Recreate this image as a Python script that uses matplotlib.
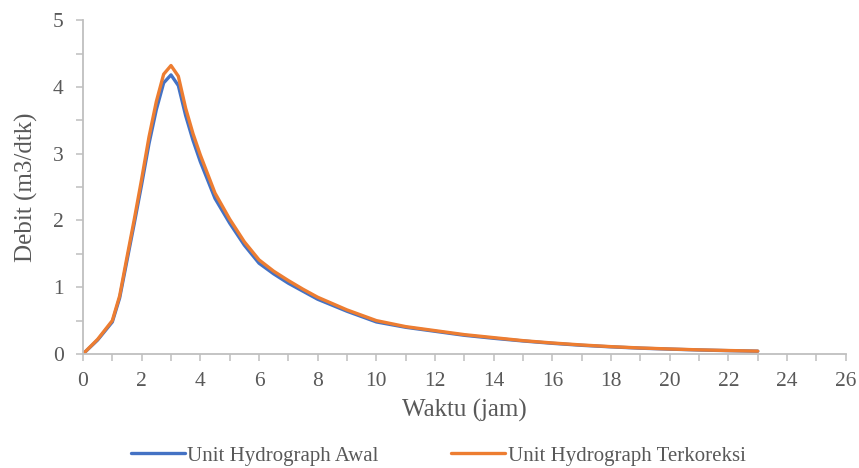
import matplotlib
matplotlib.use("Agg")
from matplotlib import pyplot as plt
from matplotlib.ticker import MultipleLocator

# waktu (jam) dan debit (m3/dtk)
waktu = [0, 0.5, 1, 1.25, 1.5, 1.75, 2, 2.25, 2.5, 2.75, 3, 3.25, 3.5, 3.75, 4,
         4.5, 5, 5.5, 6, 6.5, 7, 7.5, 8, 9, 10, 11, 12, 13, 14, 15, 16, 17,
         18, 19, 20, 21, 22, 23]
uh_awal = [0, 0.21, 0.48, 0.84, 1.40, 1.96, 2.54, 3.15, 3.66, 4.06, 4.18, 4.02,
           3.57, 3.20, 2.88, 2.33, 1.96, 1.63, 1.36, 1.20, 1.06, 0.94, 0.82,
           0.64, 0.48, 0.40, 0.34, 0.28, 0.235, 0.195, 0.16, 0.13, 0.107,
           0.087, 0.073, 0.06, 0.05, 0.042]
uh_koreksi = [0, 0.22, 0.50, 0.87, 1.45, 2.02, 2.62, 3.25, 3.78, 4.19, 4.32, 4.16,
              3.68, 3.30, 2.98, 2.41, 2.02, 1.68, 1.41, 1.24, 1.10, 0.97, 0.85,
              0.66, 0.50, 0.41, 0.35, 0.29, 0.245, 0.20, 0.165, 0.135, 0.11,
              0.09, 0.075, 0.062, 0.052, 0.043]

plt.rcParams["font.family"] = ["Liberation Serif", "DejaVu Serif"]
text_color = "#595959"
axis_color = "#BFBFBF"

fig = plt.figure(figsize=(8.59, 4.68), dpi=100)
ax = fig.add_axes([0.0966, 0.2436, 0.888, 0.7134])

ax.plot(waktu, uh_awal, color="#4472C4", lw=2.4, solid_joinstyle="round",
        solid_capstyle="round", label="Unit Hydrograph Awal")
ax.plot(waktu, uh_koreksi, color="#ED7D31", lw=2.4, solid_joinstyle="round",
        solid_capstyle="round", label="Unit Hydrograph Terkoreksi")

ax.set_xlim(0, 26)
ax.set_ylim(0, 5)
ax.xaxis.set_major_locator(MultipleLocator(2))
ax.xaxis.set_minor_locator(MultipleLocator(1))
ax.yaxis.set_major_locator(MultipleLocator(1))
ax.yaxis.set_minor_locator(MultipleLocator(0.5))

for side in ["top", "right"]:
    ax.spines[side].set_visible(False)
for side in ["left", "bottom"]:
    ax.spines[side].set_color(axis_color)
    ax.spines[side].set_linewidth(1.3)

ax.tick_params(which="both", direction="out", length=5, width=1.1,
               color=axis_color, labelcolor=text_color, labelsize=15.5)
ax.tick_params(axis="x", which="major", pad=8)
ax.tick_params(axis="y", which="major", pad=9)

ax.set_xlabel("Waktu (jam)", fontsize=18, color=text_color)
ax.set_ylabel("Debit (m3/dtk)", fontsize=18, color=text_color)
ax.xaxis.set_label_coords(0.5, -0.135)
ax.yaxis.set_label_coords(-0.059, 0.5)

fig.legend(loc="lower center", bbox_to_anchor=(0.51, -0.035), ncol=2,
           frameon=False, fontsize=15, labelcolor=text_color,
           handlelength=2.6, handletextpad=0.1, columnspacing=3.5)

plt.savefig("out.png", dpi=100)
